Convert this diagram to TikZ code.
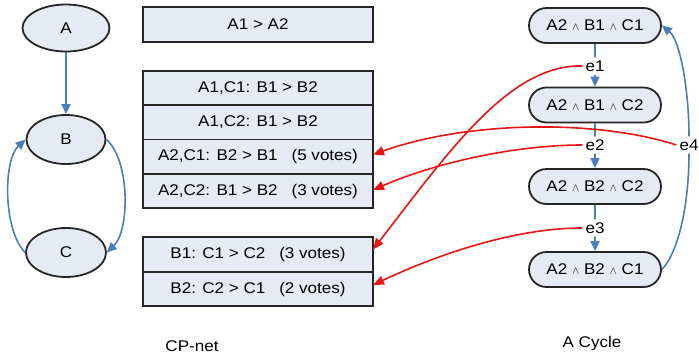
\documentclass[tikz,border=0pt]{standalone}
\usepackage{fontspec}
\setmainfont{Liberation Sans}[FakeStretch=1.1]
\usetikzlibrary{arrows.meta,shapes.geometric,shapes.misc}
\definecolor{cpblue}{RGB}{74,126,187}
\definecolor{cpred}{RGB}{235,20,20}
\definecolor{cpfill}{RGB}{230,234,244}
\newcommand\andw{{\fontsize{11}{11}\selectfont$\wedge$}}
\begin{document}
\begin{tikzpicture}[x=1pt,y=-1pt, font=\fontsize{15.5}{18}\selectfont,
 cell/.style={draw=black!85, line width=1.8pt, fill=cpfill, minimum width=230pt, minimum height=34.4pt, inner sep=0pt, outer sep=0pt},
 oval/.style={ellipse, draw=black!85, line width=1.8pt, fill=cpfill, inner sep=0pt},
 state/.style={rounded rectangle, draw=black!85, line width=1.8pt, fill=cpfill, minimum width=132pt, minimum height=35pt, inner sep=0pt},
 elab/.style={inner sep=3pt},
 bluearrow/.style={cpblue, line width=1.6pt, -{Triangle[length=10pt,width=9pt]}},
 blueline/.style={cpblue, line width=1.6pt},
 redarrow/.style={cpred, line width=1.6pt, -{Triangle[length=11pt,width=9pt]}}]
\useasboundingbox (0,0) rectangle (699,360);

% CP-net graph
\node[oval, minimum width=87pt, minimum height=47pt] (A) at (66,28) {A};
\node[oval, minimum width=79pt, minimum height=49pt] (B) at (66,139.5) {B};
\node[oval, minimum width=80pt, minimum height=49pt] (C) at (66,252.5) {C};
\draw[bluearrow] (A) -- (B);
\draw[bluearrow] (B.east) .. controls (130,160) and (130,230) .. (C.east);
\draw[bluearrow] (C.west) .. controls (3,230) and (3,160) .. (B.west);

% tables
\node[cell, minimum height=35pt] (p1) at (258,24.5) {A1 > A2};
\node[cell] (p21) at (258,88) {A1,C1: B1 > B2};
\node[cell] (p22) at (258,122.3) {A1,C2: B1 > B2};
\node[cell] (p23) at (258,156.6) {A2,C1: B2 > B1\hspace{0.9em}(5 votes)};
\node[cell] (p24) at (258,191) {A2,C2: B1 > B2\hspace{0.9em}(3 votes)};
\node[cell, minimum height=34.5pt] (p31) at (258,254.5) {B1: C1 > C2\hspace{0.9em}(3 votes)};
\node[cell, minimum height=34.5pt] (p32) at (258,289) {B2: C2 > C1\hspace{0.9em}(2 votes)};

% cycle
\node[state] (s1) at (595,25.5) {A2 \andw\ B1 \andw\ C1};
\node[state] (s2) at (595,105) {A2 \andw\ B1 \andw\ C2};
\node[state] (s3) at (595,186.5) {A2 \andw\ B2 \andw\ C2};
\node[state] (s4) at (595,269.5) {A2 \andw\ B2 \andw\ C1};
\node[elab] (e1) at (595,66) {e1};
\node[elab] (e2) at (595,145) {e2};
\node[elab] (e3) at (595,228) {e3};
\node[elab] (e4) at (689,145) {e4};

\draw[blueline] (s1) -- (e1);
\draw[bluearrow] (e1) -- (s2);
\draw[blueline] (s2) -- (e2);
\draw[bluearrow] (e2) -- (s3);
\draw[blueline] (s3) -- (e3);
\draw[bluearrow] (e3) -- (s4);
\draw[blueline] (s4.east) .. controls (680,250) and (689,200) .. (e4.south);
\draw[bluearrow] (e4.north) .. controls (689,90) and (680,40) .. (s1.east);

% red arrows
\draw[redarrow] (e1.west) .. controls (510,64) and (450,150) .. ([yshift=5pt]p31.east);
\draw[redarrow] (e4.west) .. controls (600,120) and (470,120) .. ([yshift=2pt]p23.east);
\draw[redarrow] (e2.west) .. controls (510,145) and (430,165) .. ([yshift=1pt]p24.east);
\draw[redarrow] (e3.west) .. controls (510,228) and (430,258) .. ([yshift=4pt]p32.east);

% captions
\node (cpnet) at (192,346) {CP-net};
\node (cyc) at (592,343) {A Cycle};
\end{tikzpicture}
\end{document}
